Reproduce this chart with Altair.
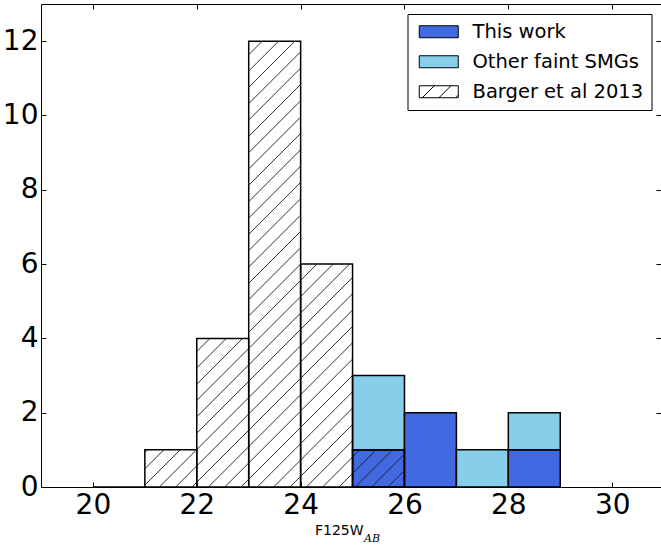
import altair as alt
import pandas as pd
import numpy as np

# ---------------- data ----------------
work_left = [25, 26, 27, 28]
this_work = [1, 2, 0, 1]
other_smgs = [2, 0, 1, 1]
barger_left = [20, 21, 22, 23, 24, 25]
barger = [0, 1, 4, 12, 6, 1]
bin_width = 1
x_ticks = [20, 22, 24, 26, 28, 30]
y_ticks = [0, 2, 4, 6, 8, 10, 12]
series = ["This work", "Other faint SMGs", "Barger et al 2013"]
colors = ["#4169E1", "#87CEEB", "white"]
x_title_main = "F125W"
x_title_sub = "AB"

# ---------------- layout ----------------
W, H = 620, 483
PAD_L, PAD_T, PAD_R, PAD_B = 41, 4, 0, 58
TOTAL_H = PAD_T + H + PAD_B
X_DOM = [19, 30.94]
Y_DOM = [0, 13]
SX = W / (X_DOM[1] - X_DOM[0])
SY = H / (Y_DOM[1] - Y_DOM[0])
HATCH_STEP = 16.33
HATCH_PHASE = -241.6

# colored stacked bars
rows = []
for xl, a, b in zip(work_left, this_work, other_smgs):
    if a > 0:
        rows.append(dict(x0=xl, x1=xl + bin_width, y0=0, y1=a, series=series[0]))
    if b > 0:
        rows.append(dict(x0=xl, x1=xl + bin_width, y0=a, y1=a + b, series=series[1]))
colored = pd.DataFrame(rows)

barger_df = pd.DataFrame(dict(
    x0=barger_left,
    x1=[v + bin_width for v in barger_left],
    y0=[0] * len(barger),
    y1=barger,
))

# hatch segments derived from the Barger bars (45 degree lines in screen space)
def to_px(x):
    return PAD_L + (x - X_DOM[0]) * SX

def to_pyu(y):
    return (TOTAL_H - PAD_T - H) + (y - Y_DOM[0]) * SY

def from_px(X):
    return X_DOM[0] + (X - PAD_L) / SX

def from_pyu(Y):
    return Y_DOM[0] + (Y - (TOTAL_H - PAD_T - H)) / SY

segs = []
for xl, h in zip(barger_left, barger):
    if h <= 0:
        continue
    X0, X1 = to_px(xl), to_px(xl + bin_width)
    Y0, Y1 = to_pyu(0), to_pyu(h)
    kmin = int(np.floor((X0 - Y1 - HATCH_PHASE) / HATCH_STEP)) - 1
    kmax = int(np.ceil((X1 - Y0 - HATCH_PHASE) / HATCH_STEP)) + 1
    for k in range(kmin, kmax + 1):
        c = HATCH_PHASE + k * HATCH_STEP
        xs = max(X0, Y0 + c)
        xe = min(X1, Y1 + c)
        if xe - xs > 0.3:
            segs.append(dict(hx0=from_px(xs), hy0=from_pyu(xs - c),
                             hx1=from_px(xe), hy1=from_pyu(xe - c)))
hatch_df = pd.DataFrame(segs)

legend_df = pd.DataFrame(dict(series=series, lx=[20] * 3))
rect_path = "M-1,-1H5.5V1H-1Z"
hatch_path = rect_path + " M-0.5,1L1.5,-1 M2.28,1L4.28,-1 M5.06,1L5.5,0.56"

# ---------------- scales / axes ----------------
xs_ = alt.Scale(domain=X_DOM, nice=False, zero=False)
ys_ = alt.Scale(domain=Y_DOM, nice=False, zero=False)

common = dict(grid=False, title=None, tickColor="black", tickWidth=1,
              domainColor="black", domainWidth=1, zindex=1)

def tick_axis(orient, values, labels, pad):
    return alt.Axis(orient=orient, values=values, offset=-5, tickSize=5,
                    domain=False, labels=labels, labelPadding=pad,
                    labelFont="DejaVu Sans", labelFontSize=28,
                    labelColor="black", labelFlush=False, labelOverlap=False,
                    format="d", **common)

def domain_axis(orient):
    return alt.Axis(orient=orient, ticks=False, labels=False, domain=True,
                    **common)

color_scale = alt.Scale(domain=series, range=colors)
shape_scale = alt.Scale(domain=series, range=[rect_path, rect_path, hatch_path])

leg = alt.Legend(
    title=None, orient="none", legendX=366.5, legendY=10, padding=8,
    rowPadding=9, labelOffset=37.5, labelFont="DejaVu Sans",
    labelFontSize=19.5, labelColor="black", labelLimit=400,
    strokeColor="black", fillColor="white", symbolSize=144,
    symbolStrokeWidth=1, symbolStrokeColor="black",
    symbolFillColor="white", symbolOpacity=1, symbolOffset=0,
)

legend_layer = alt.Chart(legend_df).transform_filter("false").mark_point(
    filled=True, opacity=1, stroke="black", strokeWidth=1, size=144
).encode(
    x=alt.X("lx:Q", scale=xs_, axis=domain_axis("top")),
    fill=alt.Fill("series:N", scale=color_scale, legend=leg),
    shape=alt.Shape("series:N", scale=shape_scale, legend=leg),
)

bars = alt.Chart(colored).mark_bar(stroke="black", strokeWidth=1.5).encode(
    x=alt.X("x0:Q", scale=xs_, axis=tick_axis("bottom", x_ticks, True, 4)),
    x2="x1:Q",
    y=alt.Y("y0:Q", scale=ys_, axis=tick_axis("left", y_ticks, True, 3)),
    y2="y1:Q",
    fill=alt.Fill("series:N", scale=color_scale, legend=leg),
)

barger_bars = alt.Chart(barger_df).mark_bar(
    fill="transparent", stroke="black", strokeWidth=1.5
).encode(
    x=alt.X("x0:Q", scale=xs_, axis=tick_axis("top", x_ticks, False, 4)),
    x2="x1:Q",
    y=alt.Y("y0:Q", scale=ys_, axis=tick_axis("right", y_ticks, False, 3)),
    y2="y1:Q",
)

hatch = alt.Chart(hatch_df).mark_rule(color="#1a1a1a", strokeWidth=0.9).encode(
    x=alt.X("hx0:Q", scale=xs_, axis=domain_axis("bottom")),
    x2="hx1:Q",
    y=alt.Y("hy0:Q", scale=ys_, axis=domain_axis("left")),
    y2="hy1:Q",
)

title_main = alt.Chart(pd.DataFrame(dict(t=[x_title_main]))).mark_text(
    font="DejaVu Sans", fontSize=14, align="left", baseline="alphabetic",
    color="black"
).encode(text="t:N", x=alt.value(274), y=alt.value(531))

title_sub = alt.Chart(pd.DataFrame(dict(t=[x_title_sub]))).mark_text(
    font="DejaVu Serif", fontSize=11, fontStyle="italic", align="left",
    baseline="alphabetic", color="black"
).encode(text="t:N", x=alt.value(323), y=alt.value(537.5))

chart = alt.layer(legend_layer, bars, barger_bars, hatch, title_main, title_sub).resolve_axis(
    x="independent", y="independent"
).properties(
    width=W, height=H,
    padding={"left": PAD_L, "top": PAD_T, "right": PAD_R, "bottom": PAD_B},
    autosize=alt.AutoSizeParams(type="none"),
    background="white",
).configure_view(stroke=None)

chart.save("out.html", embed_options={"renderer": "svg", "actions": False})
